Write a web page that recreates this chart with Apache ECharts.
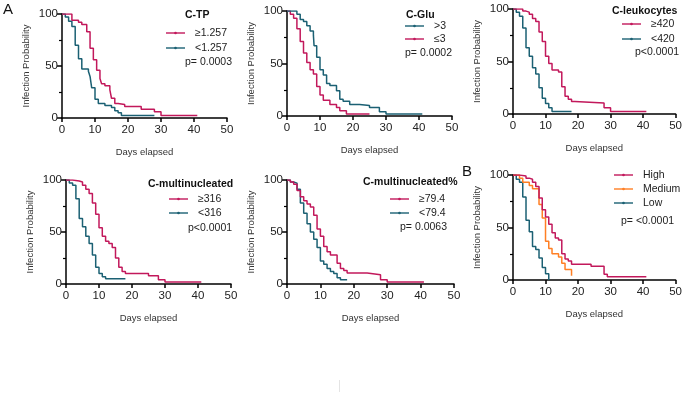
<!DOCTYPE html>
<html>
<head>
<meta charset="utf-8">
<script src="https://cdn.jsdelivr.net/npm/echarts@6/dist/echarts.min.js"></script>
<style>
  html, body { margin: 0; padding: 0; background: #fff; }
  #chart { width: 685px; height: 396px; }
</style>
</head>
<body>
<div id="chart"></div>
<script>
// step points [day, % still uninfected]; value changes at that day
var ctpHigh = [[0,100],[3,94],[5,92],[6,90],[7.5,83],[8.5,67],[9.5,56],[10.5,46],[11.5,38],[12,33],[13,31],[14.5,27],[15,19],[16,14],[17,13],[19,11],[24,8.5],[28,6],[30,2.5],[41,2.5]]
var ctpLow = [[0,100],[1,97],[2,93],[3,88],[4,70],[5,57],[6,47],[8,45],[8.5,40],[9,29],[10,18],[11,14],[13,12],[15,10],[16,7],[17,5],[18,2.5],[28,2.5]]
var gluHigh = [[0,100],[3,97],[4,92],[5,90],[6,86],[7,81],[8,77],[8.2,67],[9,56],[10,44],[11,39],[12,31],[13,29],[15,24],[16,16],[17,14],[19,11],[22,10],[25,8],[28,4],[30,2],[41,1.5]]
var gluLow = [[0,100],[1,97],[2,93],[3,83],[4,71],[5,60],[6,51],[7,44],[8,40],[9,28],[10,20],[11,15],[13,11],[15,8],[16,5],[18,2],[25,2]]
var leuHigh = [[0,100],[3,98],[4,97],[5,95],[6,91],[7,88],[8,78],[9,69],[10,55],[11,48],[12,42],[14,40],[15,26],[16,17],[17,14],[18,12],[19,10.5],[28,6],[30,2.5],[41,2]]
var leuLow = [[0,100],[1,97],[2,93],[3,82],[4,63],[5,55],[6,44],[7,38],[8,25],[9,15],[10,10],[11,6],[12,2.5],[18,2.5]]
var mulHigh = [[0,100],[2,99],[4,98],[5,95],[6,91],[7,87],[8,78],[9,67],[10,54],[11,46],[12,41],[13,39],[14,35],[15,25],[16,16],[17,12],[18,10],[25,8],[28,4],[30,2],[41,1.5]]
var mulLow = [[0,100],[1,97],[2,95],[3,82],[4,63],[5,55],[6,46],[7,39],[8,28],[9,16],[10,10],[11,7],[12,5],[18,5]]
var mulpHigh = [[0,100],[1,98],[2,96],[3,90],[4,84],[5,80],[6,77],[7,74],[8,66],[9,53],[10,46],[11,36],[12,31],[13,28],[15,20],[16,15],[17,13],[18,10.5],[24,9],[28,4],[30,2],[41,1.5]]
var mulpLow = [[0,100],[1,98],[2,97],[3,91],[4,78],[5,68],[6,58],[7,50],[8,43],[9,35],[10,22],[11,19],[12,15],[13,12],[14,10],[15,6],[16,4],[18,4]]
var bHigh = [[0,100],[2,99],[4,97],[5,96],[6,93],[7,89],[8,78],[9,67],[10,60],[11,53],[12,45],[13,40],[14,38],[15,25],[16,20],[17,18],[18,15],[24,13],[28,5.5],[29,3],[41,2.5]]
var bMedium = [[0,100],[2,97],[3,93],[5,90],[6,87],[8,72],[9,59],[10,37],[11,30],[12,25],[14,22],[15,16],[16,10],[18,4]]
var bLow = [[0,100],[1,96],[2,93],[3,79],[4,57],[5,46],[6,32],[7,29],[8,21],[9,12],[10,6],[11,0]]

var xTicks = [0, 10, 20, 30, 40, 50]
var yTicks = [0, 50, 100]

var MAG = '#c2185b'
var TEAL = '#1b6073'
var ORANGE = '#ff7f24'
var FONT = 'Liberation Sans, Arial, sans-serif'

var panels = [
  { grid: { left: 62, top: 14, width: 165, height: 104 },
    title: 'C-TP', titlePos: [185, 15], legPos: [166, 33], legGap: 15, pText: 'p= 0.0003', pPos: [185, 62],
    curves: [{ name: '\u22651.257', data: ctpHigh, color: MAG }, { name: '<1.257', data: ctpLow, color: TEAL }] },
  { grid: { left: 287, top: 11, width: 165, height: 105 },
    title: 'C-Glu', titlePos: [406, 15], legPos: [405, 26], legGap: 13, pText: 'p= 0.0002', pPos: [405, 53],
    curves: [{ name: '>3', data: gluHigh, color: TEAL }, { name: '\u22643', data: gluLow, color: MAG }] },
  { grid: { left: 513, top: 9, width: 165, height: 105 },
    title: 'C-leukocytes', titlePos: [612, 11], legPos: [622, 24], legGap: 15, pText: 'p<0.0001', pPos: [635, 52],
    curves: [{ name: '\u2265420', data: leuHigh, color: MAG }, { name: '<420', data: leuLow, color: TEAL }] },
  { grid: { left: 66, top: 180, width: 165, height: 104 },
    title: 'C-multinucleated', titlePos: [148, 184], legPos: [169, 199], legGap: 14, pText: 'p<0.0001', pPos: [188, 228],
    curves: [{ name: '\u2265316', data: mulHigh, color: MAG }, { name: '<316', data: mulLow, color: TEAL }] },
  { grid: { left: 287, top: 180, width: 167, height: 104 },
    title: 'C-multinucleated%', titlePos: [363, 182], legPos: [390, 199], legGap: 14, pText: 'p= 0.0063', pPos: [400, 227],
    curves: [{ name: '\u226579.4', data: mulpHigh, color: MAG }, { name: '<79.4', data: mulpLow, color: TEAL }] },
  { grid: { left: 513, top: 175, width: 165, height: 105 },
    title: null, legPos: [614, 175], legGap: 14, pText: 'p= <0.0001', pPos: [621, 221],
    curves: [{ name: 'High', data: bHigh, color: MAG }, { name: 'Medium', data: bMedium, color: ORANGE }, { name: 'Low', data: bLow, color: TEAL }] }
]

var grids = [], xAxes = [], yAxes = [], series = [], graphics = []

panels.forEach(function (p, i) {
  grids.push(p.grid)
  xAxes.push({
    gridIndex: i, type: 'value', min: xTicks[0], max: xTicks[xTicks.length - 1], interval: 10,
    name: 'Days elapsed', nameLocation: 'middle', nameGap: 29,
    nameTextStyle: { fontFamily: FONT, fontSize: 9.5, color: '#333' },
    axisLine: { lineStyle: { color: '#000', width: 1.5 } },
    axisTick: { length: 4, lineStyle: { color: '#000', width: 1.5 } },
    axisLabel: { fontFamily: FONT, fontSize: 11.5, color: '#222', margin: 6 },
    splitLine: { show: false }
  })
  yAxes.push({
    gridIndex: i, type: 'value', min: yTicks[0], max: yTicks[yTicks.length - 1], interval: 50,
    name: 'Infection Probability', nameLocation: 'middle', nameGap: 31, nameRotate: 90,
    nameTextStyle: { fontFamily: FONT, fontSize: 9.5, color: '#333' },
    axisLine: { onZero: false, lineStyle: { color: '#000', width: 1.5 } },
    axisTick: { length: 5, lineStyle: { color: '#000', width: 1.5 } },
    minorTick: { show: true, splitNumber: 2, length: 3, lineStyle: { color: '#000', width: 1.2 } },
    axisLabel: { fontFamily: FONT, fontSize: 11.5, color: '#222', margin: 4 },
    splitLine: { show: false }
  })
  p.curves.forEach(function (c, k) {
    series.push({
      name: c.name, type: 'line', step: 'end', xAxisIndex: i, yAxisIndex: i,
      data: c.data, symbol: 'none', silent: true,
      lineStyle: { color: c.color, width: 1.5 }, z: 3 - k
    })
    // legend entry
    var ly = p.legPos[1] + k * p.legGap
    graphics.push({ type: 'line', shape: { x1: p.legPos[0], y1: ly, x2: p.legPos[0] + 19, y2: ly },
      style: { stroke: c.color, lineWidth: 1.4 } })
    graphics.push({ type: 'circle', shape: { cx: p.legPos[0] + 9.5, cy: ly, r: 1.3 }, style: { fill: c.color } })
    graphics.push({ type: 'text', x: p.legPos[0] + 29, y: ly,
      style: { text: c.name, font: '10.5px ' + FONT, fill: '#222', verticalAlign: 'middle' } })
  })
  if (p.title) {
    graphics.push({ type: 'text', x: p.titlePos[0], y: p.titlePos[1],
      style: { text: p.title, font: 'bold 10.5px ' + FONT, fill: '#111', verticalAlign: 'middle' } })
  }
  graphics.push({ type: 'text', x: p.pPos[0], y: p.pPos[1],
    style: { text: p.pText, font: '10.5px ' + FONT, fill: '#222', verticalAlign: 'middle' } })
})

graphics.push({ type: 'text', x: 3, y: 10, style: { text: 'A', font: '15px ' + FONT, fill: '#111', verticalAlign: 'middle' } })
graphics.push({ type: 'text', x: 462, y: 172, style: { text: 'B', font: '15px ' + FONT, fill: '#111', verticalAlign: 'middle' } })
graphics.push({ type: 'line', shape: { x1: 339.5, y1: 380, x2: 339.5, y2: 392 }, style: { stroke: '#e4e4e4', lineWidth: 1 } })

var myChart = echarts.init(document.getElementById('chart'))
myChart.setOption({
  animation: false,
  grid: grids,
  xAxis: xAxes,
  yAxis: yAxes,
  series: series,
  graphic: graphics
})
</script>
</body>
</html>
